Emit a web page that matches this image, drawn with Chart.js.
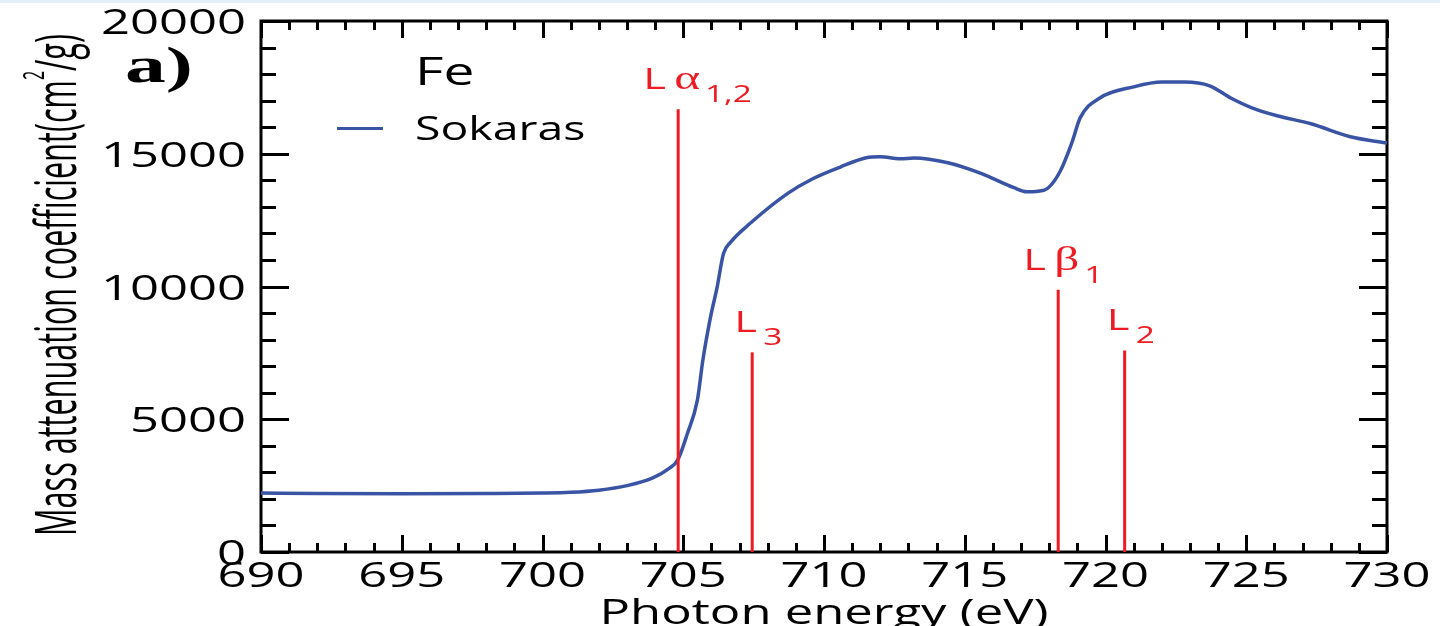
<!DOCTYPE html>
<html>
<head>
<meta charset="utf-8">
<script src="https://cdn.jsdelivr.net/npm/chart.js@4.4.1/dist/chart.umd.min.js"></script>
<style>
    html, body { margin: 0; padding: 0; background: #fff; }
    #wrap { width: 1440px; height: 626px; }
</style>
</head>
<body>
<div id="wrap"><canvas id="muChart" width="1440" height="626"></canvas></div>
<script>
(function () {
    'use strict';

    // Fe mass attenuation coefficient around the L edges
    var energy = [690, 692, 695, 698, 700, 701, 702, 703, 703.9, 704.5,
        704.8, 705.15, 705.5, 705.7, 705.96, 706.2, 706.43, 706.67, 707.4, 708.7,
        709.6, 710.6, 711.5, 712.0, 712.7, 713.2, 714.4, 715.6, 716.75, 717.2,
        717.6, 717.95, 718.4, 718.8, 719.1, 719.8, 721.0, 722.0, 722.8, 723.7,
        724.45, 725.2, 726.1, 727.3, 728.7, 730];
    var mu = [2220, 2200, 2190, 2200, 2220, 2250, 2330, 2500, 2780, 3150,
        3460, 4470, 5710, 7250, 8800, 9960, 11240, 11650, 12400, 13500,
        14060, 14510, 14850, 14890, 14810, 14840, 14660, 14250, 13720, 13570,
        13590, 13700, 14360, 15400, 16350, 17100, 17520, 17700, 17700, 17560,
        17100, 16730, 16430, 16130, 15640, 15400];

    // emission / edge markers
    var lineEnergy = [704.82, 707.45, 718.32, 720.68];
    var lineHeight = [16680, 7520, 9880, 7590];
    var lineGreek = ['α', '', 'β', ''];
    var lineSub = ['1,2', '3', '1', '2'];

    var xTicks = [690, 695, 700, 705, 710, 715, 720, 725, 730];
    var yTicks = [0, 5000, 10000, 15000, 20000];

    var BLUE = '#3953a5';
    var RED = '#ed1c24';
    var SANS = '"Open Sans", "DejaVu Sans", sans-serif';
    var STRETCH = 1.45;

    // text drawn wider than the font, like the rest of the figure
    function wideText(ctx, str, x, y, font, sx, align) {
        ctx.save();
        ctx.font = font;
        ctx.textAlign = 'left';
        ctx.textBaseline = 'alphabetic';
        var w = ctx.measureText(str).width * sx;
        var left = align === 'right' ? x - w : (align === 'center' ? x - w / 2 : x);
        ctx.translate(left, y);
        ctx.scale(sx, 1);
        ctx.fillText(str, 0, 0);
        ctx.restore();
        return w;
    }

    var figure = {
        id: 'figure',
        beforeDraw: function (chart) {
            var ctx = chart.ctx;
            ctx.save();
            ctx.fillStyle = '#fff';
            ctx.fillRect(0, 0, chart.width, chart.height);
            ctx.fillStyle = '#e2eef8';
            ctx.fillRect(0, 0, chart.width, 3);
            ctx.restore();
        },
        beforeDatasetsDraw: function (chart) {
            var ctx = chart.ctx, a = chart.chartArea;
            var x = chart.scales.x, y = chart.scales.y;
            var v, p, len;
            ctx.save();
            ctx.strokeStyle = '#000';
            ctx.lineWidth = 3;
            ctx.beginPath();
            for (v = x.min; v <= x.max; v++) {
                p = Math.round(x.getPixelForValue(v)) + 0.5;
                len = v % 5 === 0 ? 17 : 9;
                ctx.moveTo(p, a.bottom); ctx.lineTo(p, a.bottom - len);
                ctx.moveTo(p, a.top); ctx.lineTo(p, a.top + len);
            }
            for (v = y.min; v <= y.max; v += 1000) {
                p = Math.round(y.getPixelForValue(v)) + 0.5;
                len = v % 5000 === 0 ? 28 : 15;
                ctx.moveTo(a.left, p); ctx.lineTo(a.left + len, p);
                ctx.moveTo(a.right, p); ctx.lineTo(a.right - len, p);
            }
            ctx.stroke();
            ctx.strokeRect(a.left, a.top, a.right - a.left, a.bottom - a.top);
            ctx.restore();
        },
        afterDraw: function (chart) {
            var ctx = chart.ctx, a = chart.chartArea;
            var x = chart.scales.x, y = chart.scales.y;
            var tickFont = '35px ' + SANS;
            ctx.save();
            ctx.fillStyle = '#000';

            // tick labels
            yTicks.forEach(function (v) {
                wideText(ctx, String(v), a.left - 15, y.getPixelForValue(v) + 13, tickFont, STRETCH, 'right');
            });
            xTicks.forEach(function (v) {
                wideText(ctx, String(v), x.getPixelForValue(v), 587, tickFont, STRETCH, 'center');
            });

            // axis titles
            wideText(ctx, 'Photon energy (eV)', (a.left + a.right) / 2, 624, tickFont, STRETCH, 'center');

            var mainTxt = 'Mass attenuation coefficient(cm', supTxt = '2', tailTxt = '/g)';
            var mainFont = '40px ' + SANS, supFont = '21px ' + SANS;
            ctx.font = mainFont;
            var w1 = ctx.measureText(mainTxt).width;
            var w3 = ctx.measureText(tailTxt).width;
            ctx.font = supFont;
            var w2 = ctx.measureText(supTxt).width;
            var along = 502 / (w1 + w2 + w3);
            ctx.save();
            ctx.translate(76, 536);
            ctx.rotate(-Math.PI / 2);
            ctx.scale(along, 1.4);
            ctx.textAlign = 'left';
            ctx.font = mainFont;
            ctx.fillText(mainTxt, 0, 0);
            ctx.font = supFont;
            ctx.fillText(supTxt, w1, -23);
            ctx.font = mainFont;
            ctx.fillText(tailTxt, w1 + w2, 0);
            ctx.restore();

            // panel tag, element and legend
            ctx.save();
            ctx.font = 'bold 50px "Liberation Serif", serif';
            var tagW = ctx.measureText('a)').width;
            ctx.restore();
            wideText(ctx, 'a)', 125, 82, 'bold 50px "Liberation Serif", serif', 68 / tagW, 'left');
            wideText(ctx, 'Fe', 415, 85, '38px ' + SANS, STRETCH, 'left');

            var ds = chart.data.datasets[lineEnergy.length];
            ctx.strokeStyle = ds.borderColor;
            ctx.lineWidth = 3;
            ctx.beginPath();
            ctx.moveTo(337, 128.5);
            ctx.lineTo(383, 128.5);
            ctx.stroke();
            wideText(ctx, ds.label, 415, 140, '32px ' + SANS, STRETCH, 'left');

            // marker labels
            ctx.fillStyle = RED;
            lineEnergy.forEach(function (e, i) {
                var px = x.getPixelForValue(e);
                var top = y.getPixelForValue(lineHeight[i]);
                var base = top - 20;
                var greek = lineGreek[i];
                var x0 = px - (greek ? 35 : 18);
                var xs = x0 + 29;
                wideText(ctx, 'L', x0, base, '30px ' + SANS, STRETCH, 'left');
                if (greek) {
                    var gw = wideText(ctx, greek, x0 + 31, base, '34px "Liberation Serif", serif', STRETCH, 'left');
                    xs = x0 + 31 + gw + 5;
                }
                wideText(ctx, lineSub[i], xs, base + 13, '23px ' + SANS, STRETCH, 'left');
            });
            ctx.restore();
        }
    };

    var datasets = lineEnergy.map(function (e, i) {
        return {
            label: 'L' + lineGreek[i] + lineSub[i],
            data: [{ x: e, y: 0 }, { x: e, y: lineHeight[i] }],
            borderColor: RED,
            borderWidth: 3,
            pointRadius: 0,
            order: 0
        };
    });
    datasets.push({
        label: 'Sokaras',
        data: energy.map(function (e, i) { return { x: e, y: mu[i] }; }),
        borderColor: BLUE,
        borderWidth: 3.5,
        pointRadius: 0,
        cubicInterpolationMode: 'monotone',
        order: 1
    });

    new Chart(document.getElementById('muChart').getContext('2d'), {
        type: 'line',
        data: { datasets: datasets },
        plugins: [figure],
        options: {
            responsive: false,
            animation: false,
            layout: { padding: { top: 21, right: 53, left: 0, bottom: 0 } },
            plugins: {
                legend: { display: false },
                tooltip: { enabled: false }
            },
            scales: {
                x: {
                    type: 'linear',
                    min: 690,
                    max: 730,
                    grid: { display: false },
                    border: { display: false },
                    ticks: { display: false },
                    afterFit: function (s) { s.height = 74; }
                },
                y: {
                    min: 0,
                    max: 20000,
                    grid: { display: false },
                    border: { display: false },
                    ticks: { display: false },
                    afterFit: function (s) { s.width = 261; }
                }
            }
        }
    });
})();
</script>
</body>
</html>
